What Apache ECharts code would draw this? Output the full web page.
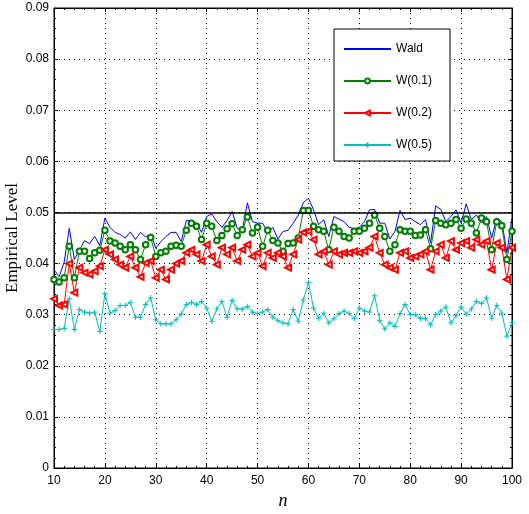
<!DOCTYPE html>
<html><head><meta charset="utf-8">
<script src="https://cdn.jsdelivr.net/npm/echarts@6/dist/echarts.min.js"></script>
<style>html,body{margin:0;padding:0;background:#fff}#c{width:529px;height:514px}</style>
</head><body><div id="c"></div>
<script>
const sampleSizes = [10,11,12,13,14,15,16,17,18,19,20,21,22,23,24,25,26,27,28,29,30,31,32,33,34,35,36,37,38,39,40,41,42,43,44,45,46,47,48,49,50,51,52,53,54,55,56,57,58,59,60,61,62,63,64,65,66,67,68,69,70,71,72,73,74,75,76,77,78,79,80,81,82,83,84,85,86,87,88,89,90,91,92,93,94,95,96,97,98,99,100];
const wald = [0.0388,0.0374,0.0403,0.0469,0.0408,0.0426,0.0445,0.0439,0.0453,0.0435,
0.0489,0.0471,0.0461,0.0457,0.0450,0.0462,0.0447,0.0461,0.0452,0.0458,
0.0430,0.0443,0.0453,0.0461,0.0461,0.0443,0.0484,0.0484,0.0479,0.0461,
0.0492,0.0497,0.0482,0.0471,0.0484,0.0502,0.0469,0.0465,0.0519,0.0482,
0.0479,0.0479,0.0460,0.0471,0.0448,0.0463,0.0465,0.0479,0.0495,0.0519,
0.0528,0.0505,0.0476,0.0486,0.0453,0.0492,0.0487,0.0482,0.0471,0.0468,
0.0471,0.0482,0.0505,0.0506,0.0479,0.0479,0.0448,0.0463,0.0504,0.0486,
0.0489,0.0482,0.0476,0.0486,0.0440,0.0513,0.0506,0.0482,0.0492,0.0505,
0.0479,0.0517,0.0486,0.0495,0.0479,0.0492,0.0450,0.0489,0.0482,0.0421,0.0489];
const w01 = [0.0369,0.0364,0.0372,0.0434,0.0372,0.0424,0.0424,0.0410,0.0421,0.0426,
0.0465,0.0444,0.0440,0.0434,0.0427,0.0437,0.0427,0.0408,0.0437,0.0451,
0.0414,0.0421,0.0424,0.0434,0.0436,0.0434,0.0465,0.0479,0.0473,0.0447,
0.0479,0.0473,0.0445,0.0455,0.0468,0.0478,0.0455,0.0466,0.0491,0.0460,
0.0471,0.0434,0.0465,0.0445,0.0440,0.0424,0.0439,0.0440,0.0450,0.0504,
0.0504,0.0473,0.0466,0.0463,0.0427,0.0471,0.0463,0.0453,0.0450,0.0463,
0.0463,0.0469,0.0479,0.0495,0.0469,0.0453,0.0424,0.0437,0.0466,0.0463,
0.0463,0.0455,0.0456,0.0466,0.0429,0.0484,0.0479,0.0476,0.0479,0.0486,
0.0469,0.0487,0.0479,0.0460,0.0489,0.0482,0.0427,0.0482,0.0474,0.0408,0.0463];
const w02 = [0.0331,0.0318,0.0320,0.0400,0.0343,0.0392,0.0382,0.0379,0.0385,0.0395,
0.0427,0.0418,0.0408,0.0398,0.0392,0.0414,0.0392,0.0374,0.0401,0.0405,
0.0372,0.0388,0.0369,0.0388,0.0400,0.0405,0.0421,0.0427,0.0418,0.0405,
0.0437,0.0414,0.0398,0.0431,0.0418,0.0431,0.0405,0.0427,0.0437,0.0414,
0.0421,0.0395,0.0421,0.0411,0.0421,0.0414,0.0392,0.0418,0.0447,0.0461,
0.0463,0.0447,0.0418,0.0424,0.0398,0.0424,0.0418,0.0421,0.0421,0.0424,
0.0421,0.0424,0.0431,0.0453,0.0421,0.0398,0.0392,0.0388,0.0421,0.0424,
0.0411,0.0414,0.0418,0.0424,0.0388,0.0424,0.0437,0.0411,0.0444,0.0427,
0.0440,0.0444,0.0431,0.0447,0.0437,0.0444,0.0388,0.0440,0.0431,0.0369,0.0431];
const w05 = [0.0271,0.0271,0.0273,0.0331,0.0271,0.0310,0.0305,0.0303,0.0305,0.0267,
0.0341,0.0303,0.0308,0.0318,0.0318,0.0324,0.0295,0.0295,0.0320,0.0333,
0.0290,0.0282,0.0282,0.0282,0.0290,0.0301,0.0320,0.0324,0.0320,0.0326,
0.0313,0.0287,0.0311,0.0326,0.0295,0.0328,0.0311,0.0311,0.0316,0.0305,
0.0302,0.0305,0.0310,0.0295,0.0288,0.0284,0.0282,0.0310,0.0287,0.0329,
0.0363,0.0313,0.0293,0.0303,0.0284,0.0292,0.0302,0.0307,0.0302,0.0292,
0.0313,0.0307,0.0305,0.0337,0.0289,0.0272,0.0284,0.0277,0.0302,0.0320,
0.0300,0.0300,0.0293,0.0293,0.0280,0.0300,0.0307,0.0315,0.0284,0.0298,
0.0315,0.0301,0.0311,0.0326,0.0322,0.0333,0.0293,0.0318,0.0303,0.0258,0.0284];
const seriesNames = ['Wald','W(0.1)','W(0.2)','W(0.5)'];
const refLevel = 0.05;

const pairs = arr => sampleSizes.map((n,i)=>[n,arr[i]]);
const sans = '"Liberation Sans", Arial, Helvetica, sans-serif';
const serif = '"Liberation Serif", "Times New Roman", serif';
const chart = echarts.init(document.getElementById('c'), null, {renderer:'canvas'});
const axisCommon = {
  axisLine:{show:true,onZero:false,lineStyle:{color:'#000',width:1}},
  axisTick:{show:true,inside:true,length:4,lineStyle:{color:'#000'}},
  minorTick:{show:true,splitNumber:5,length:2,lineStyle:{color:'#000'}},
};
chart.setOption({
  animation:false,
  backgroundColor:'#fff',
  grid:{left:54,right:17,top:8,bottom:46,show:true,borderColor:'#000',borderWidth:1,
    outerBoundsMode:'none',containLabel:false},
  legend:{
    orient:'vertical',left:334,top:29,
    data:[
      {name:seriesNames[0],itemStyle:{opacity:0}},
      {name:seriesNames[1]},{name:seriesNames[2]},{name:seriesNames[3]}
    ],
    backgroundColor:'#fff',borderColor:'#000',borderWidth:1,
    padding:[14,18,10,9],itemWidth:47,itemHeight:6,itemGap:20,
    textStyle:{fontFamily:sans,fontSize:12,color:'#000'}
  },
  xAxis:[
    Object.assign({type:'value',min:10,max:100,interval:10,position:'bottom',
      axisLabel:{fontFamily:sans,fontSize:12,color:'#000',margin:7},
      splitLine:{show:true,lineStyle:{color:'#000',type:[1,4],width:1}},
      name:'n',nameLocation:'middle',nameGap:24,
      nameTextStyle:{fontFamily:serif,fontStyle:'italic',fontSize:18,color:'#000'}
    },axisCommon),
    Object.assign({type:'value',min:10,max:100,interval:10,position:'top',
      axisLabel:{show:false},splitLine:{show:false}},axisCommon)
  ],
  yAxis:[
    Object.assign({type:'value',min:0,max:0.09,interval:0.01,position:'left',
      axisLabel:{fontFamily:sans,fontSize:12,color:'#000',margin:5,
        formatter:v=>v===0?'0':v.toFixed(2)},
      splitLine:{show:true,lineStyle:{color:'#000',type:[1,4],width:1}},
      name:'Empirical Level',nameLocation:'middle',nameGap:33,nameRotate:90,
      nameMoveOverlap:false,
      nameTextStyle:{fontFamily:serif,fontSize:17,color:'#000'}
    },axisCommon),
    Object.assign({type:'value',min:0,max:0.09,interval:0.01,position:'right',
      axisLabel:{show:false},splitLine:{show:false}},axisCommon)
  ],
  series:[
    {name:seriesNames[0],type:'line',data:pairs(wald),showSymbol:false,symbol:'none',
      lineStyle:{color:'#0000ff',width:1},itemStyle:{color:'#0000ff'},
      markLine:{silent:true,symbol:'none',label:{show:false},
        lineStyle:{color:'#000',width:1.5,type:'solid'},data:[{yAxis:refLevel}]}},
    {name:seriesNames[1],type:'line',data:pairs(w01),symbol:'emptyCircle',symbolSize:5.5,
      lineStyle:{color:'#008000',width:1},itemStyle:{color:'#008000',borderColor:'#008000',borderWidth:1}},
    {name:seriesNames[2],type:'line',data:pairs(w02),symbol:'emptyTriangle',symbolSize:6,symbolRotate:90,
      lineStyle:{color:'#ff0000',width:1},itemStyle:{color:'#ff0000',borderColor:'#ff0000',borderWidth:1}},
    {name:seriesNames[3],type:'line',data:pairs(w05),symbol:'path://M5,0L5,10M0,5L10,5',symbolSize:5.5,
      lineStyle:{color:'#00bfbf',width:1},itemStyle:{color:'#00bfbf',borderColor:'#00bfbf',borderWidth:1}}
  ]
});
</script></body></html>
